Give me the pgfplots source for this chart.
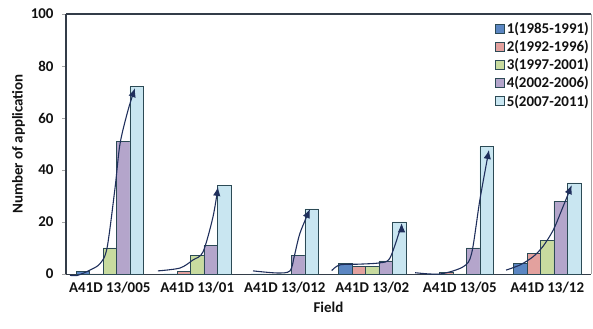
\documentclass[border=0pt]{standalone}
\usepackage{fontspec}
\setmainfont{Carlito}
\usepackage{pgfplots}
\pgfplotsset{compat=1.18}
\usetikzlibrary{arrows.meta}
\definecolor{c1}{HTML}{5B86C2}
\definecolor{c2}{HTML}{E3A19E}
\definecolor{c3}{HTML}{C8DB9F}
\definecolor{c4}{HTML}{B4A5CB}
\definecolor{c5}{HTML}{C9E6F1}
\definecolor{edge}{HTML}{2C4A55}
\definecolor{frame}{HTML}{333C48}
\definecolor{arr}{HTML}{1F2F5C}
\definecolor{txt}{HTML}{111111}
\begin{document}
\begin{tikzpicture}[font=\bfseries\fontsize{15}{17}\selectfont]
\path[use as bounding box] (-66bp,-55bp) rectangle (527bp,274bp);
\begin{axis}[at={(0,0)}, anchor=south west, scale only axis,
  width=525bp, height=260bp,
  xmin=-0.5, xmax=5.5, ymin=0, ymax=100,
  ytick={0,20,...,100},
  xtick={0,...,5},
  xticklabels={A41D 13/005, A41D 13/01, A41D 13/012, A41D 13/02, A41D 13/05, A41D 13/12},
  /pgf/number format/assume math mode=true,
  tick label style={font=\bfseries\fontsize{15}{17}\selectfont, text=txt},
  major x tick style={draw=none},
  extra x ticks={-0.5,0.5,1.5,2.5,3.5,4.5,5.5},
  extra x tick labels={},
  extra x tick style={major tick length=5bp, tick align=outside, tick style={draw=gray!70, thin}},
  ytick align=outside, major tick length=4bp,
  ytick style={draw=gray!70, thin},
  axis x line*=bottom, axis y line*=left,
  x axis line style={draw=frame, line width=1pt, -},
  y axis line style={draw=frame, line width=1.6pt, -},
  xticklabel style={yshift=-4bp},
  yticklabel style={xshift=-5bp},
  xlabel={Field}, ylabel={Number of application},
  label style={text=txt},
  xlabel style={yshift=3bp},
  ylabel style={yshift=-1bp},
  legend style={at={(1,0.975)}, anchor=north east, draw=none, fill=none,
    font=\bfseries\fontsize{15}{17}\selectfont, row sep=1.5bp,
    legend cell align=left, inner sep=0pt, text=txt},
  legend image code/.code={\draw[#1, draw=edge, line width=0.6pt] (0bp,-4.5bp) rectangle (9.5bp,5bp);},
  clip=false,
]
\addplot[ybar, bar width=0.154, bar shift=-0.308, fill=c1, draw=edge, line width=0.7pt]
  coordinates {(0,1) (1,0) (2,0) (3,4) (4,0) (5,4)};
\addlegendentry{1(1985-1991)}
\addplot[ybar, bar width=0.154, bar shift=-0.154, fill=c2, draw=edge, line width=0.7pt]
  coordinates {(0,0) (1,1) (2,0) (3,3) (4,0.5) (5,8)};
\addlegendentry{2(1992-1996)}
\addplot[ybar, bar width=0.154, bar shift=0, fill=c3, draw=edge, line width=0.7pt]
  coordinates {(0,10) (1,7) (2,0) (3,3) (4,0) (5,13)};
\addlegendentry{3(1997-2001)}
\addplot[ybar, bar width=0.154, bar shift=0.154, fill=c4, draw=edge, line width=0.7pt]
  coordinates {(0,51) (1,11) (2,7) (3,5) (4,10) (5,28)};
\addlegendentry{4(2002-2006)}
\addplot[ybar, bar width=0.154, bar shift=0.308, fill=c5, draw=edge, line width=0.7pt]
  coordinates {(0,72) (1,34) (2,25) (3,20) (4,49) (5,35)};
\addlegendentry{5(2007-2011)}
% trend arrows
\addplot[forget plot, smooth, tension=0.5, arr, line width=1.1pt, -{Latex[length=9bp,width=7.5bp]}]
  coordinates {(-0.454,-0.5) (-0.374,-0.6) (-0.226,1.5) (-0.111,4) (-0.031,10) (0.06,33) (0.117,50) (0.209,63) (0.289,71.5)};
\addplot[forget plot, smooth, tension=0.5, arr, line width=1.1pt, -{Latex[length=9bp,width=7.5bp]}]
  coordinates {(0.551,1.2) (0.803,2.3) (0.951,5.4) (1.066,8.5) (1.18,22) (1.237,33.5)};
\addplot[forget plot, smooth, tension=0.5, arr, line width=1.1pt, -{Latex[length=9bp,width=7.5bp]}]
  coordinates {(1.637,1.2) (1.911,0.4) (2.06,1.2) (2.11,7) (2.174,15.7) (2.289,25)};
\addplot[forget plot, smooth, tension=0.5, arr, line width=1.1pt, -{Latex[length=9bp,width=7.5bp]}]
  coordinates {(2.536,1.3) (2.63,3.5) (2.86,3.8) (3.089,4.3) (3.2,6) (3.317,17) (3.336,19.5)};
\addplot[forget plot, smooth, tension=0.5, arr, line width=1.1pt, -{Latex[length=9bp,width=7.5bp]}]
  coordinates {(3.489,0.5) (3.774,0) (4.04,2.8) (4.136,8) (4.23,28.5) (4.334,47.7)};
\addplot[forget plot, smooth, tension=0.5, arr, line width=1.1pt, -{Latex[length=9bp,width=7.5bp]}]
  coordinates {(4.529,1.5) (4.69,3.5) (4.84,6.7) (4.955,10.8) (5.07,17) (5.165,24.6) (5.28,34.2)};
\draw[frame, line width=1.6pt] (rel axis cs:0,1) -- (rel axis cs:1,1);
\draw[gray!70, line width=0.6pt] (rel axis cs:1,0) -- (rel axis cs:1,1);
\end{axis}
\end{tikzpicture}
\end{document}
